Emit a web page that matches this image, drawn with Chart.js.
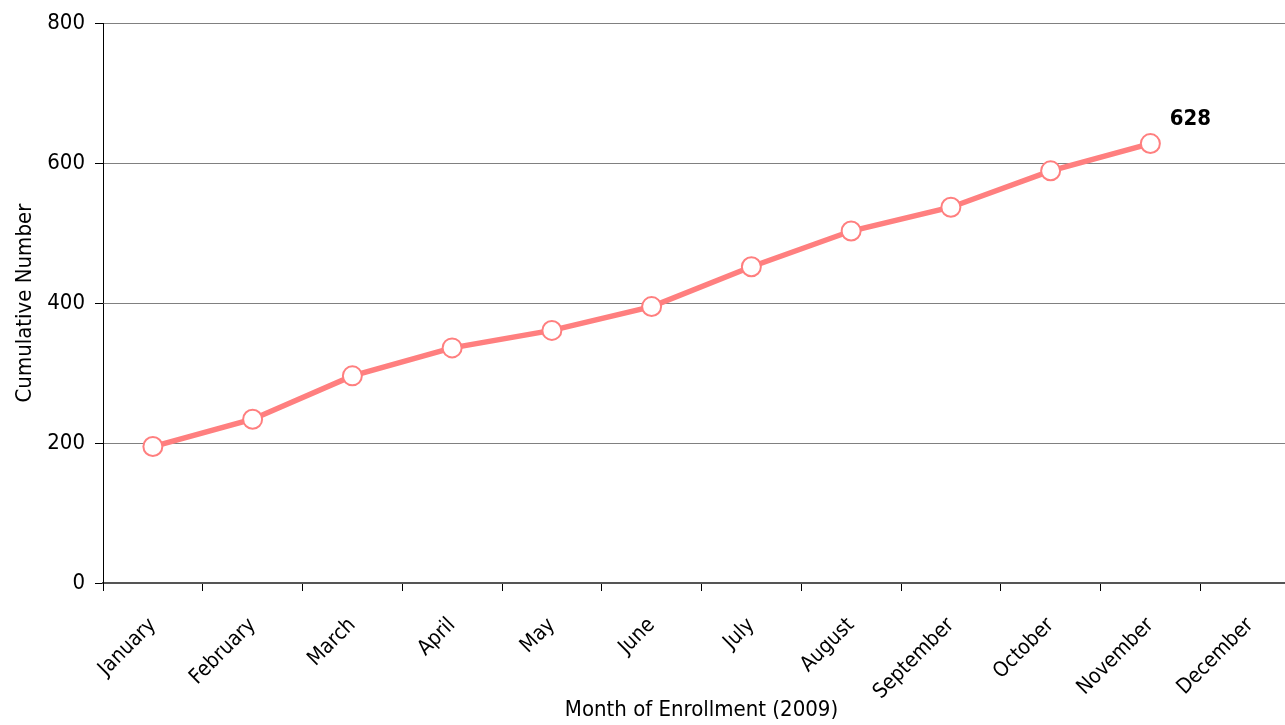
<!DOCTYPE html>
<html>
<head>
<meta charset="utf-8">
<script src="https://cdn.jsdelivr.net/npm/chart.js@4/dist/chart.umd.min.js"></script>
<style>
  html, body { margin: 0; padding: 0; background: #fff; overflow: hidden; }
  canvas { display: block; }
</style>
</head>
<body>
<!-- plot runs a little past the right edge of the window, as in the original -->
<canvas id="enrollChart" width="1300" height="725"></canvas>
<script>
// cumulative enrollment by month, 2009
const months = ['January', 'February', 'March', 'April', 'May', 'June', 'July',
  'August', 'September', 'October', 'November', 'December'];
const cumulative = [195, 234, 296, 336, 361, 395, 452, 503, 537, 589, 628, null];
const yTicks = [0, 200, 400, 600, 800];

const FONT = "'Liberation Sans Narrow', 'DejaVu Sans Condensed', 'Arial Narrow', sans-serif";

// label on the last point
const lastLabel = {
  id: 'lastLabel',
  afterDatasetsDraw(chart) {
    const meta = chart.getDatasetMeta(0);
    let idx = -1;
    cumulative.forEach((v, i) => { if (v !== null) idx = i; });
    const pt = meta.data[idx];
    const ctx = chart.ctx;
    ctx.save();
    ctx.font = "bold 22px " + FONT;
    ctx.fillStyle = '#000';
    ctx.textAlign = 'center';
    ctx.textBaseline = 'middle';
    ctx.fillText(String(cumulative[idx]), pt.x + 40, pt.y - 24);
    ctx.restore();
  }
};

new Chart(document.getElementById('enrollChart').getContext('2d'), {
  type: 'line',
  data: {
    labels: months,
    datasets: [{
      data: cumulative,
      borderColor: '#ff7f7f',
      borderWidth: 5.5,
      pointRadius: 9.5,
      pointBackgroundColor: '#fff',
      pointBorderColor: '#ff7f7f',
      pointBorderWidth: 2,
      tension: 0
    }]
  },
  options: {
    responsive: false,
    animation: false,
    layout: { autoPadding: false, padding: { top: 21, right: 0, left: 0, bottom: 0 } },
    plugins: {
      legend: { display: false },
      tooltip: { enabled: false }
    },
    scales: {
      x: {
        offset: true,
        grid: {
          offset: true,
          drawOnChartArea: false,
          drawTicks: true,
          tickLength: 8,
          color: '#000'
        },
        border: { color: '#555', width: 2 },
        ticks: {
          color: '#000',
          font: { family: FONT, size: 21 },
          minRotation: 45,
          maxRotation: 45,
          autoSkip: false,
          padding: 22
        },
        title: {
          display: true,
          text: 'Month of Enrollment (2009)',
          color: '#000',
          font: { family: FONT, size: 22 },
          padding: { top: 0, bottom: 2 }
        },
        afterFit(scale) {
          scale.height = 142;
          scale.paddingLeft = 0;
          scale.paddingRight = 0;
        }
      },
      y: {
        min: 0,
        max: 800,
        afterBuildTicks(scale) { scale.ticks = yTicks.map(v => ({ value: v })); },
        grid: {
          color: '#808080',
          lineWidth: 1,
          drawTicks: true,
          tickLength: 8,
          tickColor: '#000'
        },
        border: { color: '#000', width: 1 },
        ticks: {
          color: '#000',
          font: { family: FONT, size: 22 },
          padding: 10
        },
        title: {
          display: true,
          text: 'Cumulative Number',
          color: '#000',
          font: { family: FONT, size: 22 },
          padding: { top: 12, bottom: 6 }
        },
        afterFit(scale) { scale.width = 103; }
      }
    }
  },
  plugins: [lastLabel]
});
</script>
</body>
</html>
